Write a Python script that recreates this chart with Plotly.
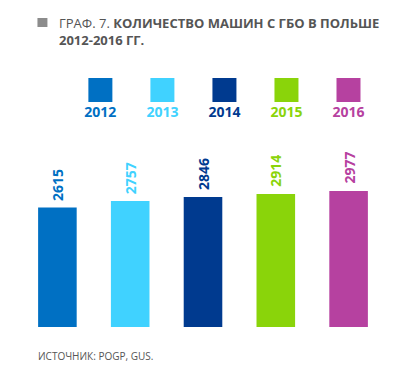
import plotly.graph_objects as go

years = ["2012", "2013", "2014", "2015", "2016"]
values = [2615, 2757, 2846, 2914, 2977]
colors = ["#0070c3", "#40d2ff", "#003a8f", "#8ad40a", "#b641a0"]

title_text = "ГРАФ. 7. <b>КОЛИЧЕСТВО МАШИН С ГБО В ПОЛЬШЕ</b><br><b>2012-2016 ГГ.</b>"
source_text = "ИСТОЧНИК: POGP, GUS."

FONT = "Open Sans"

# page offset (body margin) compensation
OFF = 8
W, H = 411 - OFF, 374 - OFF
L, R, T, B = 12.5, 25.5, 52, 47
PW, PH = W - L - R, H - T - B


def px(xp):
    return (xp - OFF - L) / PW


def py(yp):
    return (H - B - (yp - OFF)) / PH


fig = go.Figure()
fig.add_trace(go.Bar(
    x=list(range(len(years))), y=values, marker=dict(color=colors, line=dict(width=0)),
    width=0.53, xaxis="x", yaxis="y", showlegend=False, hoverinfo="skip",
))
# legend row: squares
fig.add_trace(go.Scatter(
    x=list(range(len(years))), y=[0] * len(years), mode="markers",
    marker=dict(symbol="square", size=24, color=colors, line=dict(width=0)),
    xaxis="x2", yaxis="y2", showlegend=False, hoverinfo="skip", cliponaxis=False,
))
# legend row: labels
fig.add_trace(go.Scatter(
    x=list(range(len(years))), y=[-0.575] * len(years), mode="text",
    text=[f"<b>{y}</b>" for y in years], textposition="middle center",
    textfont=dict(family=FONT, size=14, color=colors),
    xaxis="x2", yaxis="y2", showlegend=False, hoverinfo="skip", cliponaxis=False,
))

annotations = []
for i, (v, c) in enumerate(zip(values, colors)):
    annotations.append(dict(
        x=i, y=v, xref="x", yref="y", text=f"<b>{v}</b>", textangle=-90,
        showarrow=False, yanchor="bottom", xanchor="center", yshift=5,
        font=dict(family=FONT, size=14, color=c),
    ))
annotations.append(dict(
    xref="paper", yref="paper", x=px(36), y=py(356),
    text=source_text, showarrow=False, xanchor="left", yanchor="middle",
    font=dict(family=FONT, size=10, color="#555555"),
))

fig.update_layout(
    width=W, height=H,
    margin=dict(l=L, r=R, t=T, b=B),
    paper_bgcolor="white", plot_bgcolor="white",
    title=dict(text=title_text, xref="container", yref="container",
               x=(59 - OFF) / W, y=1 - 20 / H, xanchor="left", yanchor="top",
               font=dict(family=FONT, size=13, color="#555555")),
    xaxis=dict(domain=[0, 1], range=[-0.5, 4.5], visible=False),
    yaxis=dict(domain=[0, py(158)], range=[0, 3700], visible=False),
    xaxis2=dict(domain=[px(69), px(380)], range=[-0.5, 4.5],
                visible=False, anchor="y2"),
    yaxis2=dict(domain=[py(140), 1.0], range=[-1.25, 0.75], visible=False, anchor="x2"),
    annotations=annotations,
    shapes=[dict(type="rect", xref="paper", yref="paper",
                 x0=px(37), x1=px(47), y0=py(27), y1=py(18),
                 fillcolor="#8c8c8c", line=dict(width=0))],
)

fig.write_html("out.html")
